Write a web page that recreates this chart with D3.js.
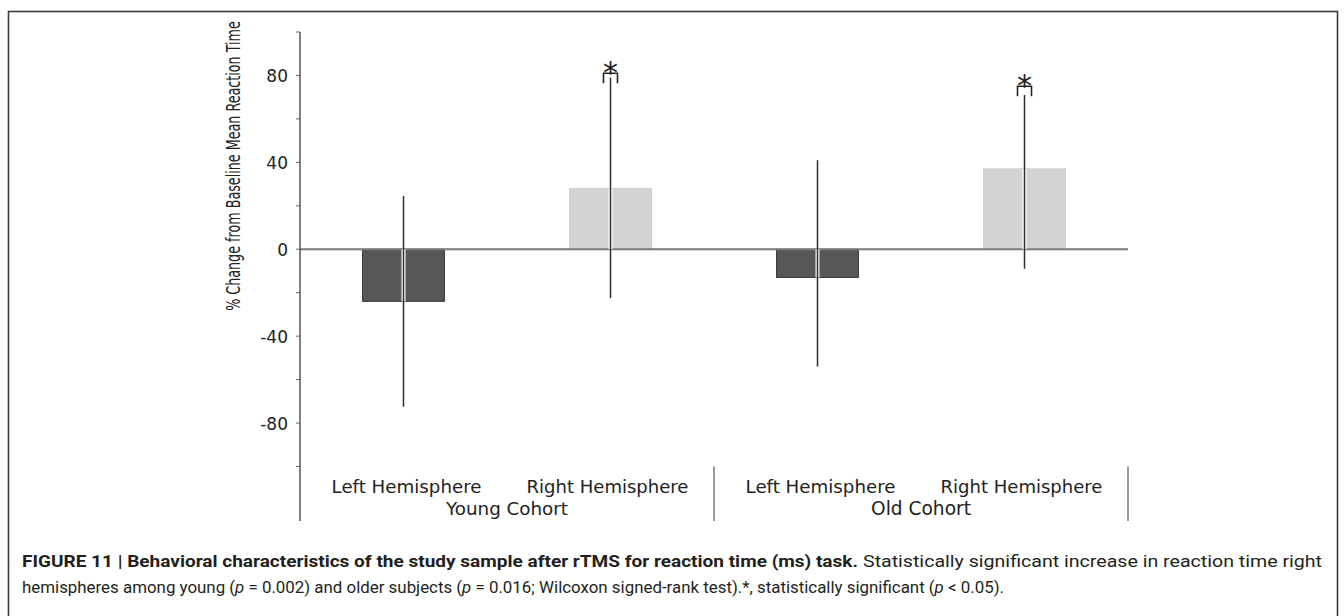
<!DOCTYPE html>
<html>
<head>
<meta charset="utf-8">
<script src="https://cdn.jsdelivr.net/npm/d3@7"></script>
<style>
  body { margin: 0; background: #fff; }
  svg { display: block; }
  .axis-font { font-family: "Century Gothic", "DejaVu Sans", sans-serif; fill: #222; }
  .caption { font-family: "Liberation Sans Narrow", "Roboto", sans-serif; fill: #231f20; }
</style>
</head>
<body>
<svg id="chart" width="1344" height="616"></svg>
<script>
// data
const cohorts = ['Young Cohort', 'Old Cohort'];
const hemispheres = ['Left Hemisphere', 'Right Hemisphere'];
const means = [-24, 28, -13, 37];          // % change, in cohort/hemisphere order
const errLow = [-72.5, -22.5, -54, -9];
const errHigh = [24.5, 79, 41, 71];
const significant = [false, true, false, true];
const sigBracket = [null, 81, null, 75];  // bracket top value
const yTicks = [-80, -40, 0, 40, 80];
const yMinorTicks = [-100, -60, -20, 20, 60, 100];

const barKeys = [];
cohorts.forEach(c => hemispheres.forEach(h => barKeys.push(c + '|' + h)));
const bars = barKeys.map((k, i) => ({
  key: k, cohort: k.split('|')[0], hemi: k.split('|')[1],
  mean: means[i], lo: errLow[i], hi: errHigh[i], sig: significant[i], bracket: sigBracket[i]
}));

const svg = d3.select('#chart');

// figure frame
svg.append('rect')
  .attr('x', 8.5).attr('y', 11.5)
  .attr('width', 1329).attr('height', 640)
  .attr('fill', 'none').attr('stroke', '#3a3a3a').attr('stroke-width', 1.6);

const x = d3.scaleBand()
  .domain(barKeys)
  .range([300, 1128])
  .paddingInner(0.604)
  .paddingOuter(0.302);

const y = d3.scaleLinear()
  .domain([-100, 100])
  .range([466.5, 32]);

const fillColor = d => d.hemi === 'Left Hemisphere' ? '#575757' : '#d3d3d3';
const strokeColor = d => d.hemi === 'Left Hemisphere' ? '#3f3f3f' : '#cfcfcf';

// bars
svg.append('g').selectAll('rect')
  .data(bars)
  .join('rect')
  .attr('x', d => x(d.key))
  .attr('width', x.bandwidth())
  .attr('y', d => y(Math.max(0, d.mean)))
  .attr('height', d => Math.abs(y(d.mean) - y(0)))
  .attr('fill', fillColor)
  .attr('stroke', strokeColor)
  .attr('stroke-width', 1);

// zero line
svg.append('line')
  .attr('x1', 300).attr('x2', 1128)
  .attr('y1', y(0)).attr('y2', y(0))
  .attr('stroke', '#7a7a7a').attr('stroke-width', 2);

// error bars, white halo then dark line
const errG = svg.append('g');
errG.selectAll('line.halo')
  .data(bars)
  .join('line')
  .classed('halo', true)
  .attr('x1', d => x(d.key) + x.bandwidth() / 2)
  .attr('x2', d => x(d.key) + x.bandwidth() / 2)
  .attr('y1', d => y(Math.min(d.hi, Math.max(0, d.mean))))
  .attr('y2', d => y(Math.max(d.lo, Math.min(0, d.mean))))
  .attr('stroke', '#fff').attr('stroke-width', 4);
errG.selectAll('line.err')
  .data(bars)
  .join('line')
  .classed('err', true)
  .attr('x1', d => x(d.key) + x.bandwidth() / 2)
  .attr('x2', d => x(d.key) + x.bandwidth() / 2)
  .attr('y1', d => y(d.hi))
  .attr('y2', d => y(d.lo))
  .attr('stroke', '#2e2e2e').attr('stroke-width', 1.5);

// significance markers
const sigG = svg.append('g').selectAll('g')
  .data(bars.filter(d => d.sig))
  .join('g')
  .attr('transform', d => `translate(${x(d.key) + x.bandwidth() / 2},${y(d.bracket)})`);
sigG.append('path')
  .attr('d', 'M-7,10V0H7V10')
  .attr('fill', 'none').attr('stroke', '#222').attr('stroke-width', 1.6);
sigG.append('text')
  .attr('y', 10)
  .attr('text-anchor', 'middle')
  .style('font-family', 'DejaVu Sans, sans-serif')
  .style('font-size', '30px')
  .style('fill', '#222')
  .text('*');

// y axis
const yAxis = svg.append('g')
  .attr('transform', 'translate(300,0)')
  .call(d3.axisLeft(y).tickValues(yTicks).tickFormat(d => String(d)).tickSize(0).tickPadding(12));
yAxis.select('.domain').remove();
yAxis.selectAll('text')
  .attr('class', 'axis-font')
  .style('font-size', '17px')
  .attr('dy', '0.36em');

svg.append('g').selectAll('line')
  .data(yTicks.concat(yMinorTicks))
  .join('line')
  .attr('x1', 296).attr('x2', 300)
  .attr('y1', d => y(d)).attr('y2', d => y(d))
  .attr('stroke', '#666').attr('stroke-width', 1);

svg.append('line')
  .attr('x1', 300).attr('x2', 300)
  .attr('y1', y(100)).attr('y2', 521)
  .attr('stroke', '#555').attr('stroke-width', 1.5);

// group separators
svg.append('g').selectAll('line')
  .data([x(barKeys[1]) + x.bandwidth() + x.step() * x.paddingInner() / 2, 1128])
  .join('line')
  .attr('x1', d => d).attr('x2', d => d)
  .attr('y1', y(-100)).attr('y2', 521)
  .attr('stroke', '#777').attr('stroke-width', 1.5);

// helper: fit text font size to a target width
function fitWidth(sel, target) {
  const w = sel.node().getComputedTextLength();
  const fs = parseFloat(sel.style('font-size'));
  sel.style('font-size', (fs * target / w) + 'px');
}

// category labels
svg.append('g').selectAll('text')
  .data(bars)
  .join('text')
  .attr('class', 'axis-font')
  .attr('x', d => x(d.key) + x.bandwidth() / 2 + (d.hemi === 'Left Hemisphere' ? 3 : -3))
  .attr('y', 493)
  .attr('text-anchor', 'middle')
  .style('font-size', '17px')
  .text(d => d.hemi)
  .each(function (d) { fitWidth(d3.select(this), d.hemi === 'Left Hemisphere' ? 150 : 162); });

svg.append('g').selectAll('text')
  .data(cohorts)
  .join('text')
  .attr('class', 'axis-font')
  .attr('x', c => {
    const ks = barKeys.filter(k => k.startsWith(c));
    return (x(ks[0]) + x(ks[1]) + x.bandwidth()) / 2;
  })
  .attr('y', 515)
  .attr('text-anchor', 'middle')
  .style('font-size', '17px')
  .text(c => c)
  .each(function (c) { fitWidth(d3.select(this), c === 'Young Cohort' ? 122 : 100); });

// y axis title, squeezed along its length like the original
const yTitle = svg.append('text')
  .attr('class', 'axis-font')
  .attr('text-anchor', 'middle')
  .style('font-size', '19px')
  .text('% Change from Baseline Mean Reaction Time');
const titleW = yTitle.node().getComputedTextLength();
yTitle.attr('transform', `translate(240,166) rotate(-90) scale(${290 / titleW},1)`);

// caption
svg.append('text').attr('class', 'caption')
  .attr('x', 22).attr('y', 567)
  .style('font-size', '16px').style('font-weight', 'bold')
  .attr('textLength', 836).attr('lengthAdjust', 'spacingAndGlyphs')
  .text('FIGURE 11 | Behavioral characteristics of the study sample after rTMS for reaction time (ms) task.');
svg.append('text').attr('class', 'caption')
  .attr('x', 863).attr('y', 567)
  .style('font-size', '16px')
  .attr('textLength', 459).attr('lengthAdjust', 'spacingAndGlyphs')
  .text('Statistically significant increase in reaction time right');

const cap2 = svg.append('text').attr('class', 'caption')
  .attr('x', 22).attr('y', 593).style('font-size', '16px')
  .attr('textLength', 982).attr('lengthAdjust', 'spacingAndGlyphs');
const parts2 = [
  ['hemispheres among young (', false], ['p', true], [' = 0.002) and older subjects (', false],
  ['p', true], [' = 0.016; Wilcoxon signed-rank test).*, statistically significant (', false],
  ['p', true], [' < 0.05).', false]
];
parts2.forEach(p => {
  cap2.append('tspan').style('font-style', p[1] ? 'italic' : 'normal').text(p[0]);
});
</script>
</body>
</html>
